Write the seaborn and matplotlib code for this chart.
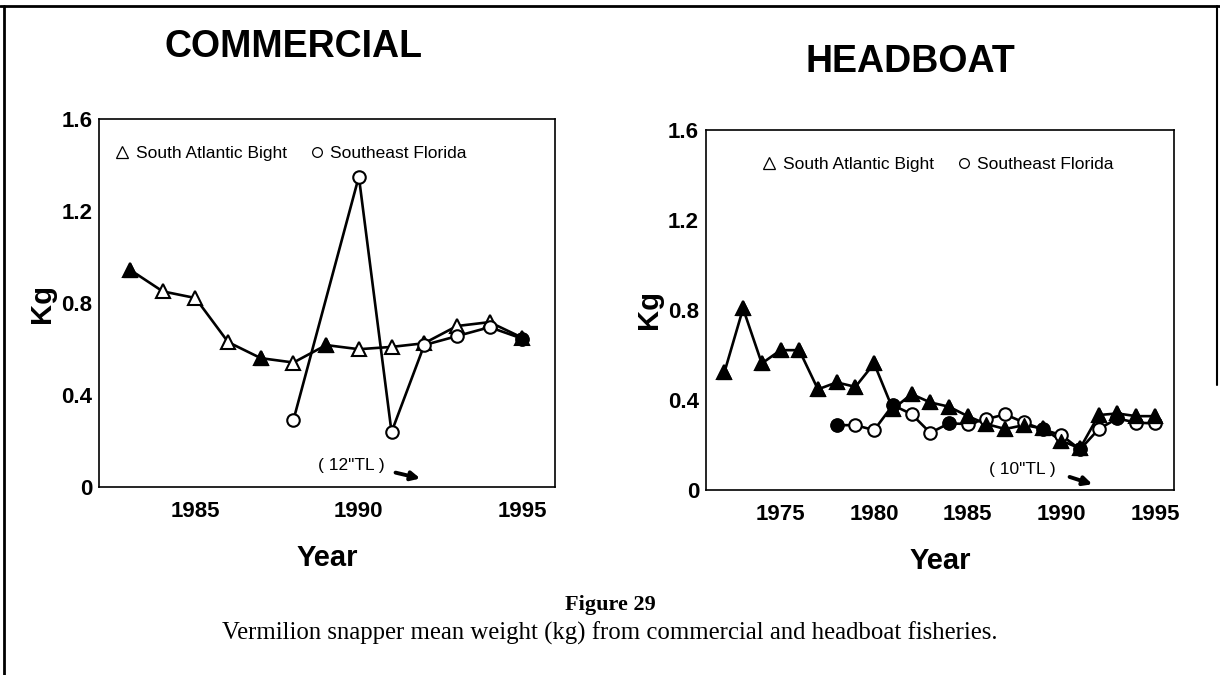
import numpy as np
import pandas as pd
import matplotlib
matplotlib.use('Agg')
import matplotlib.pyplot as plt
from matplotlib.lines import Line2D
import seaborn as sns

##DATA##
com_sab_years = [1983, 1984, 1985, 1986, 1987, 1988, 1989, 1990, 1991, 1992, 1993, 1994, 1995]
com_sab = [0.945, 0.851, 0.822, 0.630, 0.560, 0.541, 0.617, 0.599, 0.609, 0.625, 0.700, 0.717, 0.649]
com_sef_years = [1988, 1990, 1991, 1992, 1993, 1994, 1995]
com_sef = [0.291, 1.351, 0.238, 0.617, 0.656, 0.695, 0.645]

hb_sab_years = [1972, 1973, 1974, 1975, 1976, 1977, 1978, 1979, 1980, 1981, 1982, 1983,
                1984, 1985, 1986, 1987, 1988, 1989, 1990, 1991, 1992, 1993, 1994, 1995]
hb_sab = [0.522, 0.806, 0.562, 0.621, 0.621, 0.447, 0.478, 0.458, 0.562, 0.359, 0.426, 0.389,
          0.370, 0.328, 0.293, 0.271, 0.288, 0.274, 0.219, 0.185, 0.333, 0.340, 0.328, 0.328]
hb_sef_years = [1978, 1979, 1980, 1981, 1982, 1983, 1984, 1985, 1986, 1987, 1988, 1989,
                1990, 1991, 1992, 1993, 1994, 1995]
hb_sef = [0.288, 0.288, 0.266, 0.377, 0.337, 0.254, 0.296, 0.293, 0.315, 0.336, 0.300, 0.269,
          0.244, 0.180, 0.271, 0.318, 0.299, 0.296]

# years where the printed marker is solid black
com_sab_filled = [1983, 1987, 1989]
com_sef_filled = [1995]
hb_sab_filled = hb_sab_years
hb_sef_filled = [1978, 1981, 1984, 1989, 1991, 1993]

yticks = [0, 0.4, 0.8, 1.2, 1.6]
ytick_labels = ['0', '0.4', '0.8', '1.2', '1.6']
legend_labels = ['South Atlantic Bight', 'Southeast Florida']

sns.set_style('white')
NARROW = ['Liberation Sans Narrow', 'Liberation Sans', 'DejaVu Sans']
plt.rcParams['font.family'] = ['Liberation Sans', 'DejaVu Sans']
for k in ['text.color', 'axes.labelcolor', 'xtick.color', 'ytick.color']:
    plt.rcParams[k] = 'black'

fig = plt.figure(figsize=(12.2, 6.75), dpi=100)
axL = fig.add_axes([0.0814, 0.279, 0.3735, 0.544])
axR = fig.add_axes([0.5787, 0.274, 0.3836, 0.534])


def draw_series(ax, years, vals, filled, marker, ms):
    sns.lineplot(x=years, y=vals, ax=ax, color='black', lw=1.9, marker=marker,
                 markersize=ms, markerfacecolor='white', markeredgecolor='black',
                 markeredgewidth=1.5, zorder=2)
    df = pd.DataFrame({'Year': years, 'Kg': vals})
    df = df[df.Year.isin(filled)]
    sns.scatterplot(x=df.Year, y=df.Kg, ax=ax, marker=marker, s=ms ** 2, color='black',
                    edgecolor='black', linewidth=1, zorder=3)


def style_axis(ax, years, xlim, leg_anchor):
    ax.set_xlim(*xlim)
    ax.set_ylim(0, 1.6)
    ax.set_xticks(years)
    ax.set_xticklabels([str(y) if y % 5 == 0 else '' for y in years])
    ax.set_yticks(yticks)
    ax.set_yticklabels(ytick_labels)
    ax.tick_params(direction='in', length=6, width=1.2, pad=5, labelsize=16)
    ax.tick_params(axis='x', pad=10)
    for lab in ax.get_xticklabels() + ax.get_yticklabels():
        lab.set_fontfamily(NARROW)
        lab.set_fontweight('bold')
    for sp in ax.spines.values():
        sp.set_visible(True)
        sp.set_color('black')
        sp.set_linewidth(1.2)
    ax.set_xlabel('Year', fontsize=21, fontweight='bold', family=NARROW, labelpad=16)
    ax.set_ylabel('Kg', fontsize=21, fontweight='bold', family=NARROW, labelpad=4)
    handles = [Line2D([], [], ls='', marker='^', ms=8, mfc='white', mec='black', mew=0.9),
               Line2D([], [], ls='', marker='o', ms=7, mfc='white', mec='black', mew=0.9)]
    ax.legend(handles, legend_labels, loc='center left', bbox_to_anchor=leg_anchor, ncol=2,
              frameon=False, fontsize=12.5, handlelength=0.8, handletextpad=0.4,
              columnspacing=1.3, borderpad=0, borderaxespad=0)


draw_series(axL, com_sab_years, com_sab, com_sab_filled, '^', 10)
draw_series(axL, com_sef_years, com_sef, com_sef_filled, 'o', 9)
style_axis(axL, com_sab_years, (1982.06, 1996.0), (0.035, 0.907))

draw_series(axR, hb_sab_years, hb_sab, hb_sab_filled, '^', 10)
draw_series(axR, hb_sef_years, hb_sef, hb_sef_filled, 'o', 9)
style_axis(axR, hb_sab_years, (1971.02, 1996.02), (0.12, 0.903))

# minimum size limit notes
axL.text(1989.76, 0.094, '( 12"TL )', ha='center', va='center', fontsize=12.5)
axL.annotate('', xy=(1991.96, 0.033), xytext=(1991.04, 0.064),
             arrowprops=dict(arrowstyle='-|>', lw=2.8, color='black', mutation_scale=13))
axR.text(1987.9, 0.089, '( 10"TL )', ha='center', va='center', fontsize=12.5)
axR.annotate('', xy=(1991.8, 0.022), xytext=(1990.3, 0.062),
             arrowprops=dict(arrowstyle='-|>', lw=2.8, color='black', mutation_scale=13))

fig.text(293 / 1220, 1 - 47 / 675, 'COMMERCIAL', ha='center', va='center', fontsize=27,
         fontweight='bold', family=NARROW)
fig.text(910 / 1220, 1 - 62 / 675, 'HEADBOAT', ha='center', va='center', fontsize=27,
         fontweight='bold', family=NARROW)

fig.text(0.5, 1 - 605 / 675, 'Figure 29', ha='center', va='center', fontsize=16,
         fontweight='bold', family=['Liberation Serif', 'DejaVu Serif'])
fig.text(0.5, 1 - 633 / 675,
         'Vermilion snapper mean weight (kg) from commercial and headboat fisheries.',
         ha='center', va='center', fontsize=17.8, family=['Liberation Serif', 'DejaVu Serif'])

# page frame
fig.add_artist(Line2D([0, 1], [1 - 6 / 675, 1 - 6 / 675], color='black', lw=2))
fig.add_artist(Line2D([4 / 1220, 4 / 1220], [1 - 6 / 675, 0], color='black', lw=2))
fig.add_artist(Line2D([1217 / 1220, 1217 / 1220], [1 - 6 / 675, 1 - 385 / 675], color='black', lw=1.5))

plt.savefig('out.png', dpi=100)
